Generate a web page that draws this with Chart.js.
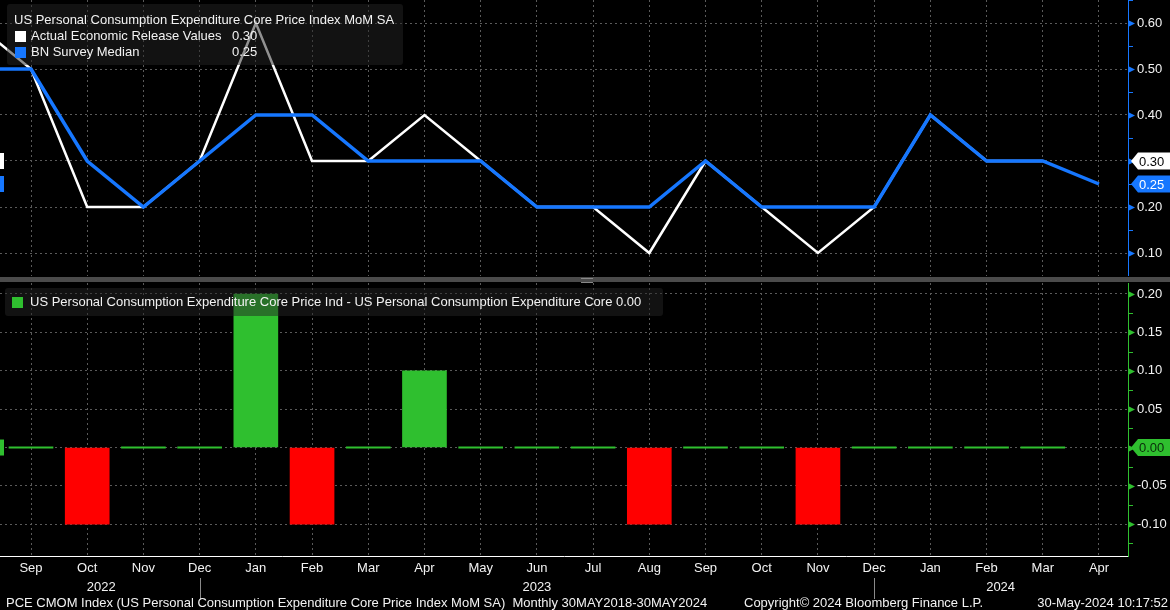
<!DOCTYPE html>
<html>
<head>
<meta charset="utf-8">
<script src="https://cdn.jsdelivr.net/npm/chart.js@4.4.1/dist/chart.umd.min.js"></script>
<style>
  body { margin: 0; background: #000; width: 1170px; height: 610px; overflow: hidden; position: relative;
         font-family: "Liberation Sans", Arial, sans-serif; color: #f2f2f2; font-size: 13px; }
  canvas { position: absolute; left: 0; }
  #top { top: 0; }
  #bottom { top: 283px; }
  .sep { position: absolute; left: 0; top: 277px; width: 1170px; height: 5px; background: #4b4b4b; }
  .grip { position: absolute; left: 581px; top: 278px; width: 12px; height: 3px; border-top: 1px solid #888; border-bottom: 1px solid #888; }
  .box { position: absolute; background: rgba(36, 36, 36, 0.5); border-radius: 3px; }
  .row { position: absolute; white-space: nowrap; line-height: 16px; }
  .sq { position: absolute; width: 11px; height: 11px; }
  .foot { position: absolute; top: 595px; white-space: nowrap; line-height: 16px; }
</style>
</head>
<body>
<canvas id="top" width="1170" height="276"></canvas>
<div class="sep"></div><div class="grip"></div>
<canvas id="bottom" width="1170" height="327"></canvas>

<div class="box" style="left:7px;top:4px;width:396px;height:61px;">
  <div class="row" style="left:7px;top:8px;">US Personal Consumption Expenditure Core Price Index MoM SA</div>
  <div class="sq" style="left:8px;top:27px;background:#fff;"></div>
  <div class="row" style="left:24px;top:24px;">Actual Economic Release Values</div>
  <div class="row" style="left:225px;top:24px;" id="v1"></div>
  <div class="sq" style="left:8px;top:43px;background:#1677ff;"></div>
  <div class="row" style="left:24px;top:40px;">BN Survey Median</div>
  <div class="row" style="left:225px;top:40px;" id="v2"></div>
</div>

<div class="box" style="left:5px;top:288px;width:658px;height:28px;">
  <div class="sq" style="left:7px;top:9px;background:#2fbf2f;"></div>
  <div class="row" style="left:25px;top:6px;">US Personal Consumption Expenditure Core Price Ind - US Personal Consumption Expenditure Core <span id="v3"></span></div>
</div>

<div class="foot" style="left:6px;">PCE CMOM Index (US Personal Consumption Expenditure Core Price Index MoM SA)&nbsp;&nbsp;Monthly 30MAY2018-30MAY2024</div>
<div class="foot" style="left:744px;">Copyright© 2024 Bloomberg Finance L.P.</div>
<div class="foot" style="right:2px;">30-May-2024 10:17:52</div>

<script>
// Aug 2022 .. Apr 2024
const months = ['Aug', 'Sep', 'Oct', 'Nov', 'Dec', 'Jan', 'Feb', 'Mar', 'Apr', 'May', 'Jun', 'Jul',
                'Aug', 'Sep', 'Oct', 'Nov', 'Dec', 'Jan', 'Feb', 'Mar', 'Apr']
const years = ['2022', '2023', '2024']
const actual = [0.6, 0.5, 0.2, 0.2, 0.3, 0.6, 0.3, 0.3, 0.4, 0.3, 0.2, 0.2, 0.1, 0.3, 0.2, 0.1, 0.2, 0.4, 0.3, 0.3, null]
const survey = [0.5, 0.5, 0.3, 0.2, 0.3, 0.4, 0.4, 0.3, 0.3, 0.3, 0.2, 0.2, 0.2, 0.3, 0.2, 0.2, 0.2, 0.4, 0.3, 0.3, 0.25]
const surprise = [0.1, 0, -0.1, 0, 0, 0.2, -0.1, 0, 0.1, 0, 0, 0, -0.1, 0, 0, -0.1, 0, 0, 0, 0, null]
const topTicks = [0.1, 0.2, 0.3, 0.4, 0.5, 0.6]
const bottomTicks = [-0.1, -0.05, 0, 0.05, 0.1, 0.15, 0.2]

const BLUE = '#1677ff'
const GREEN = '#2fbf2f'
const GRID = '#5a5a5a'

Chart.defaults.font.family = '"Liberation Sans", Arial, sans-serif'
Chart.defaults.font.size = 13
Chart.defaults.color = '#f2f2f2'

// visible month window (Sep 2022 sits 31px in, one month = 56.21px)
const xMin = 1 - 31 / 56.21
const xMax = xMin + 1128 / 56.21

const pts = arr => arr.map((v, i) => ({ x: i, y: v }))
const lastOf = arr => arr.filter(v => v !== null).at(-1)
const fmt = v => (Math.abs(v) < 1e-9 ? 0 : v).toFixed(2)

document.getElementById('v1').textContent = fmt(lastOf(actual))
document.getElementById('v2').textContent = fmt(lastOf(survey))
document.getElementById('v3').textContent = fmt(lastOf(surprise))

function noPad(s) {
    s.paddingTop = 0
    s.paddingBottom = 0
    s.paddingLeft = 0
    s.paddingRight = 0
}

function xAxis(labels) {
    return {
        type: 'linear', min: xMin, max: xMax, offset: false,
        afterBuildTicks: s => { s.ticks = months.map((m, i) => ({ value: i })).filter(t => t.value >= xMin && t.value <= xMax) },
        grid: { color: GRID, drawTicks: false, offset: false },
        border: { display: labels, color: '#ffffff', dash: [2, 3] },
        ticks: { display: labels, padding: 5, maxRotation: 0, autoSkip: false, callback: v => months[v] },
        afterFit: s => { s.height = labels ? 54 : 0; noPad(s) }
    }
}

function yAxis(color, min, max, ticks) {
    return {
        position: 'right', min: min, max: max,
        afterBuildTicks: s => { s.ticks = ticks.map(v => ({ value: v })) },
        grid: { color: GRID, drawTicks: false },
        border: { color: color, dash: [2, 3] },
        ticks: { padding: 9, callback: v => fmt(v) },
        afterFit: s => { s.width = 42; noPad(s) }
    }
}

// arrow ticks on the value axis, minor ticks, last-value tags and left markers
function axisDeco(color, tags) {
    return {
        id: 'deco',
        afterDraw(chart) {
            const ctx = chart.ctx
            const y = chart.scales.y
            const ax = chart.chartArea.right
            ctx.save()
            ctx.fillStyle = color
            ctx.strokeStyle = color
            ctx.lineWidth = 1
            const vals = y.ticks.map(t => t.value)
            const step = vals[1] - vals[0]
            for (const v of vals) {
                const py = Math.round(y.getPixelForValue(v)) + 0.5
                ctx.beginPath()
                ctx.moveTo(ax, py - 3.5)
                ctx.lineTo(ax + 7, py)
                ctx.lineTo(ax, py + 3.5)
                ctx.fill()
            }
            for (let v = vals[0] - step / 2; v <= y.max + 1e-9; v += step) {
                if (v < y.min - 1e-9) continue
                const py = Math.round(y.getPixelForValue(v)) + 0.5
                ctx.beginPath()
                ctx.moveTo(ax, py)
                ctx.lineTo(ax + 5, py)
                ctx.stroke()
            }
            for (const t of tags) {
                const py = y.getPixelForValue(t.value)
                ctx.fillStyle = t.bg
                ctx.beginPath()
                ctx.moveTo(ax + 3, py)
                ctx.lineTo(ax + 10, py - 8.5)
                ctx.lineTo(chart.width, py - 8.5)
                ctx.lineTo(chart.width, py + 8.5)
                ctx.lineTo(ax + 10, py + 8.5)
                ctx.closePath()
                ctx.fill()
                ctx.fillRect(0, py - 8, 4, 16)
                ctx.fillStyle = t.fg
                ctx.textAlign = 'left'
                ctx.textBaseline = 'middle'
                ctx.font = '13px "Liberation Sans", Arial, sans-serif'
                ctx.fillText(fmt(t.value), ax + 11, py + 1)
            }
            ctx.restore()
        }
    }
}

const yearMarks = {
    id: 'years',
    afterDraw(chart) {
        const ctx = chart.ctx
        const x = chart.scales.x
        const base = chart.chartArea.bottom
        ctx.save()
        ctx.strokeStyle = '#8a8a8a'
        ctx.lineWidth = 1
        months.forEach((m, i) => {
            if (m === 'Dec') {
                const px = Math.round(x.getPixelForValue(i)) + 0.5
                ctx.beginPath()
                ctx.moveTo(px, base + 22)
                ctx.lineTo(px, base + 43)
                ctx.stroke()
            }
        })
        ctx.fillStyle = '#f2f2f2'
        ctx.font = '13px "Liberation Sans", Arial, sans-serif'
        ctx.textAlign = 'center'
        ctx.textBaseline = 'middle'
        // year captions sit under the middle of each year's visible span
        const at = { '2022': 2.25, '2023': 10, '2024': 18.25 }
        years.forEach(yr => ctx.fillText(yr, x.getPixelForValue(at[yr]), base + 31))
        ctx.restore()
    }
}

new Chart(document.getElementById('top'), {
    type: 'line',
    data: {
        datasets: [{
            data: pts(actual),
            borderColor: '#ffffff',
            borderWidth: 2.5,
            order: 2
        }, {
            data: pts(survey),
            borderColor: BLUE,
            borderWidth: 3.5,
            order: 1
        }]
    },
    options: {
        responsive: false,
        animation: false,
        layout: { padding: 0 },
        elements: { point: { radius: 0 }, line: { tension: 0, borderJoinStyle: 'miter' } },
        plugins: { legend: { display: false }, tooltip: { enabled: false } },
        scales: {
            x: xAxis(false),
            y: yAxis(BLUE, 0.05, 0.65, topTicks)
        }
    },
    plugins: [axisDeco(BLUE, [
        { value: lastOf(actual), bg: '#ffffff', fg: '#000000' },
        { value: lastOf(survey), bg: BLUE, fg: '#ffffff' }
    ])]
})

new Chart(document.getElementById('bottom'), {
    type: 'bar',
    data: {
        datasets: [{
            data: pts(surprise),
            backgroundColor: surprise.map(v => v < 0 ? '#ff0000' : GREEN),
            barThickness: 44,
            minBarLength: 1.5
        }]
    },
    options: {
        responsive: false,
        animation: false,
        layout: { padding: 0 },
        plugins: { legend: { display: false }, tooltip: { enabled: false } },
        scales: {
            x: xAxis(true),
            y: yAxis(GREEN, -0.1413, 0.2143, bottomTicks)
        }
    },
    plugins: [axisDeco(GREEN, [
        { value: lastOf(surprise), bg: GREEN, fg: '#0b2b0b' }
    ]), yearMarks]
})
</script>
</body>
</html>
